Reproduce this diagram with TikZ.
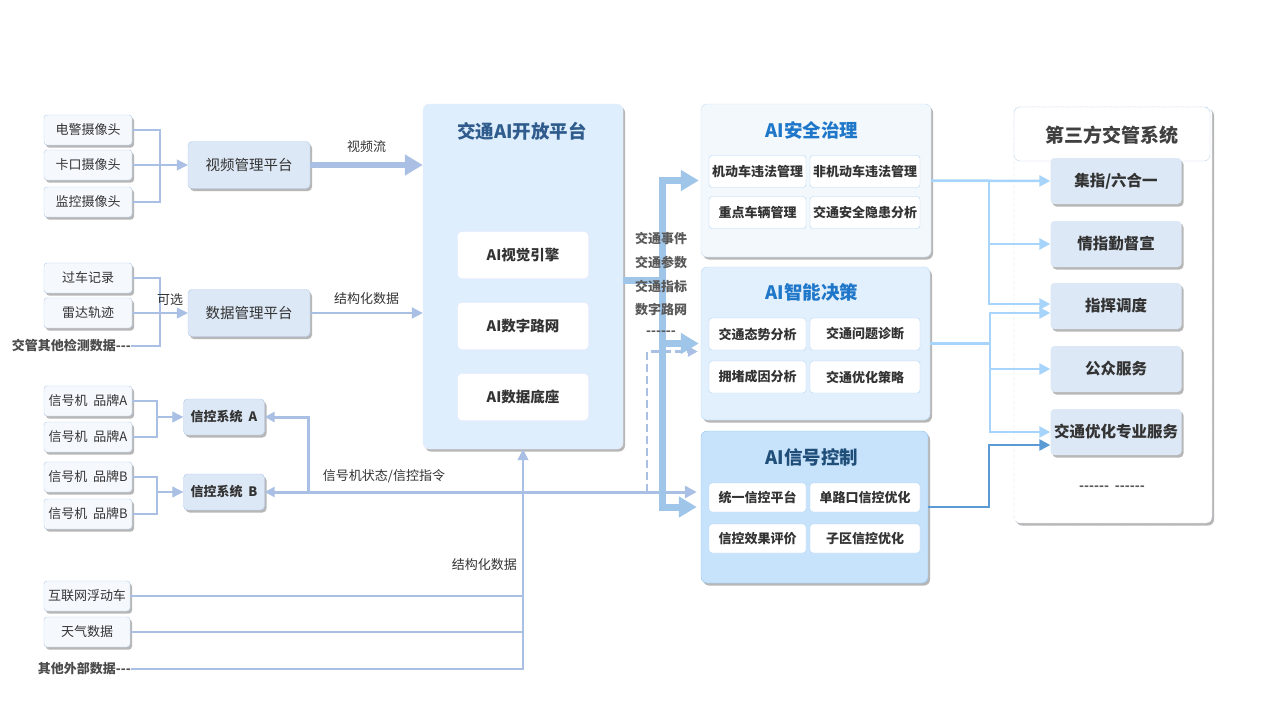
\documentclass[tikz,border=0pt]{standalone}
\usepackage{fontspec}
\setmainfont{Noto Sans CJK SC}
\usetikzlibrary{arrows.meta,shadows,positioning}
\definecolor{srcfill}{HTML}{F5F9FE}
\definecolor{srcline}{HTML}{B3CAE8}
\definecolor{mgrfill}{HTML}{DCE8F5}
\definecolor{lnblue}{HTML}{A9C0E4}
\definecolor{fatblue}{HTML}{9FC5E8}
\definecolor{ltblue}{HTML}{A6D4FB}
\definecolor{dkblue}{HTML}{5B9BD5}
\definecolor{ptffill}{HTML}{DFEEFC}
\definecolor{aqfill}{HTML}{F3F8FD}
\definecolor{znfill}{HTML}{E2EFFC}
\definecolor{xhfill}{HTML}{C7E2FB}
\definecolor{xhline}{HTML}{8FC4F0}
\definecolor{txt}{HTML}{333333}
\definecolor{ptftitle}{HTML}{2F5C8C}
\definecolor{apptitle}{HTML}{1F77C9}
\definecolor{xhtitle}{HTML}{1F4E79}
\begin{document}
\begin{tikzpicture}[x=1pt,y=-1pt,
  every node/.style={text=txt,inner sep=0pt},
  shd/.style={drop shadow={shadow xshift=2pt,shadow yshift=-2.5pt,opacity=0.4,fill=black!70}},
  src/.style={draw=srcline,fill=srcfill,rounded corners=3pt,minimum width=88pt,minimum height=30pt,
    shd,font=\fontsize{13}{15}\selectfont},
  mgr/.style={draw=srcline,fill=mgrfill,rounded corners=4pt,minimum width=122pt,minimum height=47pt,
    shd,font=\fontsize{14.5}{16}\selectfont},
  xk/.style={draw=srcline,fill=mgrfill,rounded corners=4pt,minimum width=81pt,minimum height=36pt,
    shd,font=\bfseries\fontsize{13}{15}\selectfont},
  note/.style={text=black!70,font=\bfseries\fontsize{13}{15}\selectfont},
  lbl/.style={font=\fontsize{13}{15}\selectfont},
  eng/.style={draw=blue!10,fill=white,rounded corners=4pt,minimum width=131pt,minimum height=47pt,
    font=\bfseries\fontsize{14.5}{16}\selectfont},
  func/.style={draw=xhline!70,fill=white,rounded corners=3pt,minimum height=32pt,
    font=\bfseries\fontsize{13}{15}\selectfont},
  third/.style={fill=mgrfill,rounded corners=4pt,minimum width=131pt,minimum height=46pt,
    shd,font=\bfseries\fontsize{15.5}{17}\selectfont},
  ttl/.style={font=\bfseries\fontsize{18.5}{20}\selectfont},
  thinln/.style={draw=lnblue,line width=1.2pt},
  sigln/.style={draw=lnblue,line width=3pt},
  fatln/.style={draw=fatblue,line width=7pt},
  ltln/.style={draw=ltblue,line width=2.5pt},
  tip/.style={-{Triangle[length=11pt,width=11pt]}},
  bigtip/.style={-{Triangle[length=18pt,width=20pt]}}]
\useasboundingbox[fill=white] (0,0) rectangle (1280,720);

% video inputs
\node[src] (djsx) at (88,130) {电警摄像头};
\node[src] (kksx) at (88,165) {卡口摄像头};
\node[src] (jksx) at (88,202) {监控摄像头};
\node[mgr] (spgl) at (249,165) {视频管理平台};
\coordinate (vbus) at (160,165);
\draw[thinln] (djsx.east) -| (vbus);
\draw[thinln] (jksx.east) -| (vbus);
\draw[thinln,tip] (kksx.east) -- (spgl.west);

% data inputs
\node[src] (gcjl) at (88,278) {过车记录};
\node[src] (ldgj) at (88,313) {雷达轨迹};
\node[note,anchor=east] (jgqt) at (131,346) {交管其他检测数据{-}{-}{-}};
\node[mgr] (sjgl) at (249,313) {数据管理平台};
\coordinate (dbus) at (160,313);
\draw[thinln] (gcjl.east) -| (dbus);
\draw[thinln] (jgqt.east) -| (dbus);
\draw[thinln,tip] (ldgj.east) -- (sjgl.west);
\node[lbl] at (170,300) {可选};

% platform
\node[draw=blue!8,fill=ptffill,rounded corners=6pt,minimum width=200pt,minimum height=345pt,shd]
  (ptf) at (523,276.5) {};
\node[ttl,text=ptftitle] at (522,131) {交通AI开放平台};
\node[eng] (sjyq) at (523,255) {AI视觉引擎};
\node[eng] (szlw) at (523,326) {AI数字路网};
\node[eng] (sjdz) at (523,397) {AI数据底座};

\draw[draw=lnblue,line width=6pt,bigtip] (spgl.east) -- (spgl.east -| ptf.west)
  node[midway,above=9pt,lbl]{视频流};
\draw[draw=lnblue,line width=2pt,tip] (sjgl.east) -- (sjgl.east -| ptf.west)
  node[midway,above=7pt,lbl]{结构化数据};

% signal controllers
\node[src] (xha1) at (88,401) {信号机\ \ 品牌A};
\node[src] (xha2) at (88,437) {信号机\ \ 品牌A};
\node[src] (xhb1) at (88,477) {信号机\ \ 品牌B};
\node[src] (xhb2) at (88,514) {信号机\ \ 品牌B};
\node[xk] (xka) at (224,417) {信控系统\ \ A};
\node[xk] (xkb) at (224,492) {信控系统\ \ B};
\coordinate (abus) at (157,417);
\coordinate (bbus) at (157,492);
\draw[thinln] (xha1.east) -| (abus);
\draw[thinln] (xha2.east) -| (abus);
\draw[thinln,tip] (abus) -- (xka.west);
\draw[thinln] (xhb1.east) -| (bbus);
\draw[thinln] (xhb2.east) -| (bbus);
\draw[thinln,tip] (bbus) -- (xkb.west);

% external inputs
\node[src,minimum width=86pt] (hlw) at (87,596) {互联网浮动车};
\node[src,minimum width=86pt] (tqsj) at (87,632) {天气数据};
\node[note,anchor=east] (qtwb) at (131,669) {其他外部数据{-}{-}{-}};
\draw[thinln] (hlw.east) -- (hlw.east -| ptf.south);
\draw[thinln] (tqsj.east) -- (tqsj.east -| ptf.south);
\draw[thinln,tip] (qtwb.east) -| (ptf.south);
\node[lbl,anchor=east] at (517,565) {结构化数据};

% application boxes
\node[draw=xhline!50,fill=aqfill,rounded corners=6pt,minimum width=230pt,minimum height=153pt,shd]
  (aiaq) at (816,180.5) {};
\node[ttl,text=apptitle] at (812,130) {AI安全治理};
\node[func,minimum width=97pt] at (757.5,171.5) {机动车违法管理};
\node[func,minimum width=110pt] at (865,171.5) {非机动车违法管理};
\node[func,minimum width=97pt] at (757.5,212.5) {重点车辆管理};
\node[func,minimum width=110pt] at (865,212.5) {交通安全隐患分析};

\node[draw=xhline!60,fill=znfill,rounded corners=6pt,minimum width=229pt,minimum height=153pt,shd]
  (aizn) at (815.5,343.5) {};
\node[ttl,text=apptitle] at (812,292) {AI智能决策};
\node[func,minimum width=97pt] at (757.5,334) {交通态势分析};
\node[func,minimum width=110pt] at (865,334) {交通问题诊断};
\node[func,minimum width=97pt] at (757.5,377) {拥堵成因分析};
\node[func,minimum width=110pt] at (865,377) {交通优化策略};

\node[draw=xhline,fill=xhfill,rounded corners=6pt,minimum width=227pt,minimum height=152pt,shd]
  (aixh) at (814.5,507) {};
\node[ttl,text=xhtitle] at (812,457) {AI信号控制};
\node[func,minimum width=97pt,minimum height=29pt] at (757.5,497.5) {统一信控平台};
\node[func,minimum width=110pt,minimum height=29pt] at (865,497.5) {单路口信控优化};
\node[func,minimum width=97pt,minimum height=29pt] at (757.5,538.5) {信控效果评价};
\node[func,minimum width=110pt,minimum height=29pt] at (865,538.5) {子区信控优化};

% signal state line
\coordinate (sgbr) at (308,492);
\coordinate (dsh) at (647,492);
\draw[sigln,{Triangle[length=10pt,width=10pt]}-{Triangle[length=12pt,width=12pt]},shorten >=4pt]
  (xkb.east) -- (xkb.east -| aixh.west);
\draw[sigln,{Triangle[length=10pt,width=10pt]}-] (xka.east) -| (sgbr);
\node[lbl] at (384,476) {信号机状态/信控指令};
\draw[draw=lnblue,line width=2.5pt,dashed,dash pattern=on 8pt off 4pt,-{Triangle[length=10pt,width=10pt]},shorten >=3pt]
  (dsh) |- ([yshift=-8pt]aizn.west);

% platform outputs
\coordinate (pbus) at (662,280);
\draw[fatln] (ptf.east |- pbus) -- (pbus);
\draw[fatln,bigtip,shorten >=2pt] ([yshift=-3.5pt]pbus) |- (aiaq.west);
\draw[fatln,bigtip,shorten >=2pt] (pbus) |- (aizn.west);
\draw[fatln,bigtip,shorten >=4pt] (pbus) |- (aixh.west);
\node[note,text=black!65] at (661,238) {交通事件};
\node[note,text=black!65] at (661,262) {交通参数};
\node[note,text=black!65] at (661,286) {交通指标};
\node[note,text=black!65] at (661,310) {数字路网};
\node[note,text=black!65] at (661,333) {{-}{-}{-}{-}{-}{-}};

% third-party systems
\draw[draw=srcline!80,dashed,fill=white,rounded corners=6pt,shd] (1014,107) rectangle (1212,523);
\node[draw=srcline!80,fill=white,rounded corners=6pt,minimum width=196pt,minimum height=54pt]
  (dsf) at (1112,134) {};
\node[text=black!75,font=\bfseries\fontsize{19}{21}\selectfont] at (1112,135) {第三方交管系统};
\node[third] (jz) at (1116,181) {集指/六合一};
\node[third] (qz) at (1116,244) {情指勤督宣};
\node[third] (zh) at (1116,306) {指挥调度};
\node[third] (gz) at (1116,369) {公众服务};
\node[third] (jtyh) at (1116,432) {交通优化专业服务};
\node[note,text=black!65] at (1112,488) {{-}{-}{-}{-}{-}{-}\ \ {-}{-}{-}{-}{-}{-}};

\coordinate (rb1) at (989,180.5);
\coordinate (rb2) at (990,343.5);
\coordinate (rb3) at (989,507);
\draw[ltln,tip] (aiaq.east) -- (jz.west);
\draw[ltln,tip] (rb1) |- (qz.west);
\draw[ltln,tip] (rb1) |- ([yshift=2pt]zh.west);
\draw[ltln] (aizn.east) -- (rb2);
\draw[ltln,tip] (rb2) |- ([yshift=-7pt]zh.west);
\draw[ltln,tip] (rb2) |- (gz.west);
\draw[ltln,tip] (rb2) |- (jtyh.west);
\draw[draw=dkblue,line width=2.5pt,tip] (aixh.east) -- (rb3) |- ([yshift=-13pt]jtyh.west);
\end{tikzpicture}
\end{document}
